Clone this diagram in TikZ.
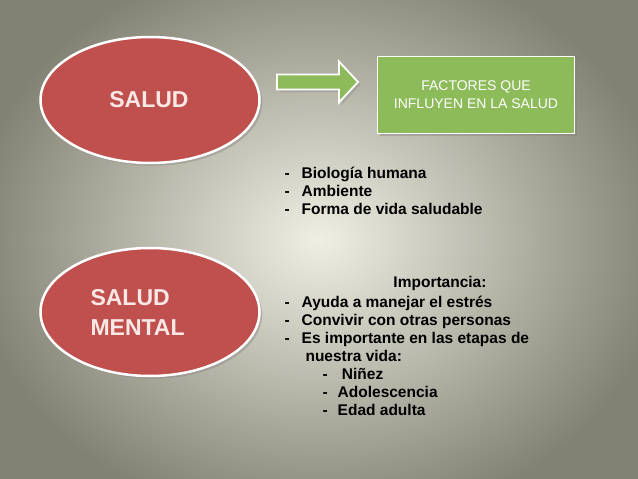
\documentclass[tikz,border=0pt]{standalone}
\usepackage{fontspec}
\setmainfont{Liberation Sans}
\usetikzlibrary{shapes.geometric,shadows,calc}
\definecolor{redf}{HTML}{C0504D}
\definecolor{greenf}{HTML}{8DBB59}
\tikzset{
 ell/.style={ellipse,fill=redf,draw=white,line width=2.5pt,minimum width=219pt,minimum height=126pt,drop shadow={opacity=0.4}},
 etext/.style={font=\bfseries\fontsize{23}{30}\selectfont,text={rgb,255:red,250;green,232;blue,230},align=left},
 lst/.style={anchor=north west,font=\bfseries\fontsize{15.5}{18}\selectfont,align=left,text=black}
}
\begin{document}
\begin{tikzpicture}[x=1pt,y=-1pt]
\useasboundingbox (0,0) rectangle (638,479);
\shade[inner color={rgb,255:red,240;green,239;blue,228},outer color={rgb,255:red,130;green,130;blue,115}] (-30,-50) rectangle (668,529);
\node[ell] (s1) at (150,100) {};
\node[etext] (t1) at (149,100) {SALUD};
\node[ell,minimum height=128pt] (s2) at (150,312) {};
\node[etext,anchor=west] (t2) at (87,312) {SALUD\\MENTAL};
\coordinate (ar) at (277,82);
\filldraw[fill=greenf,draw=white,line width=1.8pt,drop shadow={opacity=0.3}]
 ($(ar)+(0,-7.5)$) -- ++(62,0) -- ++(0,-13) -- ++(19,20.5) -- ++(-19,20.5) -- ++(0,-13) -- ++(-62,0) -- cycle;
\node[fill=greenf,draw=white,line width=1.8pt,minimum width=197pt,minimum height=77pt,text=white,font=\fontsize{14}{18}\selectfont,align=center,drop shadow={opacity=0.4}] (fb) at (476,95) {FACTORES QUE\\INFLUYEN EN LA SALUD};
\node[lst] (l1) at (281,164) {-\hspace{12pt}Biología humana\\-\hspace{12pt}Ambiente\\-\hspace{12pt}Forma de vida saludable};
\node[font=\bfseries\fontsize{15.5}{18}\selectfont] (imp) at (440,283) {Importancia:};
\node[lst] (l2) at (281,293) {-\hspace{12pt}Ayuda a manejar el estrés\\-\hspace{12pt}Convivir con otras personas\\-\hspace{12pt}Es importante en las etapas de\\\hspace{21pt}nuestra vida:\\\hspace{38pt}-\hspace{10pt} Niñez\\\hspace{38pt}-\hspace{10pt}Adolescencia\\\hspace{38pt}-\hspace{10pt}Edad adulta};
\end{tikzpicture}
\end{document}
